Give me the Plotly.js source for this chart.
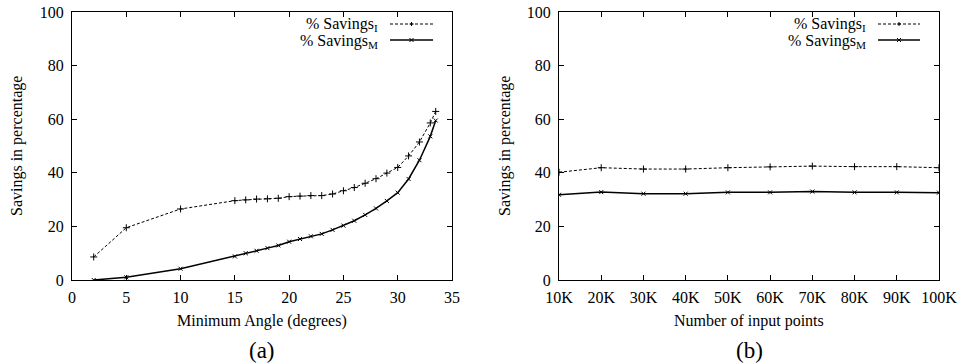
<!DOCTYPE html>
<html><head><meta charset="utf-8">
<script src="https://cdn.plot.ly/plotly-3.0.1.min.js"></script>
<style>html,body{margin:0;padding:0;background:#fff}</style>
</head><body>
<div id="chart" style="width:959px;height:364px"></div>
<script>
// Panel (a): savings vs minimum angle
const angles = [2, 5, 10, 15, 16, 17, 18, 19, 20, 21, 22, 23, 24, 25, 26, 27, 28, 29, 30, 31, 32, 33, 33.5];
const savingsI_a = [8.6, 19.5, 26.5, 29.6, 29.9, 30.2, 30.3, 30.5, 31.1, 31.3, 31.5, 31.5, 32.1, 33.3, 34.5, 36.1, 37.8, 39.9, 42.0, 46.3, 51.5, 58.6, 62.9];
const savingsM_a = [0.0, 1.0, 4.2, 8.8, 10.0, 10.9, 11.9, 12.9, 14.3, 15.3, 16.3, 17.2, 18.7, 20.3, 22.1, 24.3, 26.7, 29.5, 32.6, 37.7, 44.7, 53.6, 59.5];
// Panel (b): savings vs number of input points (thousands)
const points = [10, 20, 30, 40, 50, 60, 70, 80, 90, 100];
const pointLabels = ["10K", "20K", "30K", "40K", "50K", "60K", "70K", "80K", "90K", "100K"];
const savingsI_b = [40.2, 41.9, 41.4, 41.4, 41.9, 42.2, 42.5, 42.3, 42.3, 41.9];
const savingsM_b = [31.8, 32.8, 32.2, 32.2, 32.7, 32.7, 33.0, 32.7, 32.7, 32.6];
const yTicks = [0, 20, 40, 60, 80, 100];
const xTicksA = [0, 5, 10, 15, 20, 25, 30, 35];

const FONT = "Liberation Serif, Times New Roman, serif";
const styleI = {mode: "lines+markers", line: {color: "#000", width: 1, dash: "3px,2px"},
  marker: {symbol: "cross-thin", size: 5, line: {color: "#000", width: 1}}, showlegend: false, hoverinfo: "skip"};
const styleM = {mode: "lines+markers", line: {color: "#000", width: 1.5},
  marker: {symbol: "x-thin", size: 4, line: {color: "#000", width: 1}}, showlegend: false, hoverinfo: "skip"};

const data = [
  Object.assign({x: angles, y: savingsI_a, xaxis: "x", yaxis: "y"}, styleI),
  Object.assign({x: angles, y: savingsM_a, xaxis: "x", yaxis: "y"}, styleM),
  Object.assign({x: points, y: savingsI_b, xaxis: "x2", yaxis: "y2"}, styleI),
  Object.assign({x: points, y: savingsM_b, xaxis: "x2", yaxis: "y2"}, styleM)
];

const axisCommon = {showline: true, linecolor: "#000", linewidth: 1, mirror: "ticks", ticks: "inside",
  ticklen: 5, tickwidth: 1, tickcolor: "#000", showgrid: false, zeroline: false,
  tickfont: {family: FONT, size: 16, color: "#000"}, automargin: false};
const yDom = [1 - 280/364, 1 - 12/364];

const layout = {
  width: 959, height: 364, margin: {l: 0, r: 0, t: 0, b: 0},
  paper_bgcolor: "#fff", plot_bgcolor: "#fff",
  font: {family: FONT, color: "#000"},
  xaxis: Object.assign({}, axisCommon, {domain: [72/959, 452/959], range: [0, 35], tickvals: xTicksA, anchor: "y", ticklabelstandoff: 3}),
  yaxis: Object.assign({}, axisCommon, {domain: yDom, range: [0, 100], tickvals: yTicks, anchor: "x", ticklabelstandoff: 4}),
  xaxis2: Object.assign({}, axisCommon, {domain: [559/959, 939/959], range: [10, 100], tickvals: points,
    ticktext: pointLabels, anchor: "y2", ticklabelstandoff: 3}),
  yaxis2: Object.assign({}, axisCommon, {domain: yDom, range: [0, 100], tickvals: yTicks, anchor: "x2", ticklabelstandoff: 4}),
  annotations: [],
  shapes: []
};

function txt(text, x, y, size, angle) {
  layout.annotations.push({text: text, xref: "paper", yref: "paper", x: x/959, y: 1 - y/364,
    xanchor: "center", yanchor: "middle", showarrow: false, textangle: angle || 0,
    font: {family: FONT, size: size, color: "#000"}});
}
// Axis titles and panel labels
txt("Minimum Angle (degrees)", 262, 321, 16);
txt("Number of input points", 749, 321, 16);
txt("Savings in percentage", 17, 146, 16, -90);
txt("Savings in percentage", 505, 146, 16, -90);
txt("(a)", 262, 350, 23);
txt("(b)", 749, 350, 23);

// gnuplot-style legends (text on the left, sample on the right)
function addLegend(textRight, lineL, lineR) {
  const rows = [{t: "% Savings<sub>I</sub>", y: 24, dash: "dot", w: 1, m: "+"},
                {t: "% Savings<sub>M</sub>", y: 40, dash: "solid", w: 1.5, m: "x"}];
  rows.forEach(r => {
    const yp = 1 - r.y/364;
    layout.annotations.push({text: r.t, xref: "paper", yref: "paper", x: textRight/959, y: 1 - (r.y + 1)/364,
      xanchor: "right", yanchor: "middle", showarrow: false, font: {family: FONT, size: 16, color: "#000"}});
    layout.shapes.push({type: "line", xref: "paper", yref: "paper", x0: lineL/959, x1: lineR/959, y0: yp, y1: yp,
      line: {color: "#000", width: r.w, dash: r.dash === "dot" ? "3px,2px" : "solid"}});
    const cx = (lineL + lineR) / 2, cy = r.y, s = 2;
    if (r.m === "+") {
      layout.shapes.push({type: "line", xref: "paper", yref: "paper", x0: (cx - s)/959, x1: (cx + s)/959, y0: 1 - cy/364, y1: 1 - cy/364, line: {color: "#000", width: 1}});
      layout.shapes.push({type: "line", xref: "paper", yref: "paper", x0: cx/959, x1: cx/959, y0: 1 - (cy - s)/364, y1: 1 - (cy + s)/364, line: {color: "#000", width: 1}});
    } else {
      layout.shapes.push({type: "line", xref: "paper", yref: "paper", x0: (cx - s)/959, x1: (cx + s)/959, y0: 1 - (cy - s)/364, y1: 1 - (cy + s)/364, line: {color: "#000", width: 1}});
      layout.shapes.push({type: "line", xref: "paper", yref: "paper", x0: (cx - s)/959, x1: (cx + s)/959, y0: 1 - (cy + s)/364, y1: 1 - (cy - s)/364, line: {color: "#000", width: 1}});
    }
  });
}
addLegend(380, 390, 433);
addLegend(868, 878, 920);

Plotly.newPlot("chart", data, layout, {staticPlot: true, displayModeBar: false});
</script>
</body></html>
